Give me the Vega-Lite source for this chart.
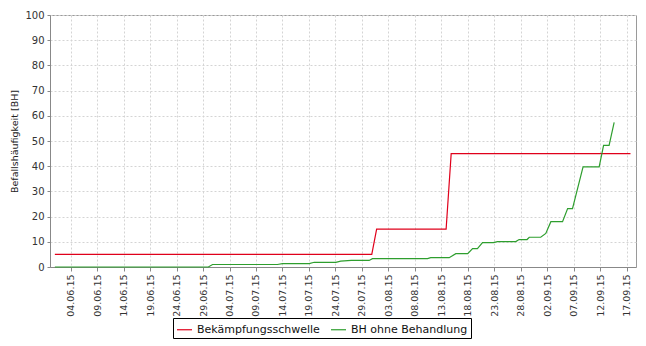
{
  "$schema": "https://vega.github.io/schema/vega-lite/v6.json",
  "width": 586,
  "height": 252,
  "autosize": {"type": "none"},
  "padding": {"left": 50, "top": 15, "right": 11, "bottom": 79},
  "background": "white",
  "config": {
    "view": {"stroke": "#9a9a9a", "strokeWidth": 1},
    "font": "DejaVu Sans"
  },
  "data": {
    "values": [
      {"series": "Bekämpfungsschwelle", "date": "2015-06-01T00:00:00Z", "value": 5},
      {"series": "Bekämpfungsschwelle", "date": "2015-07-30T21:00:00Z", "value": 5},
      {"series": "Bekämpfungsschwelle", "date": "2015-07-31T19:00:00Z", "value": 15},
      {"series": "Bekämpfungsschwelle", "date": "2015-08-13T22:00:00Z", "value": 15},
      {"series": "Bekämpfungsschwelle", "date": "2015-08-14T21:00:00Z", "value": 45},
      {"series": "Bekämpfungsschwelle", "date": "2015-09-17T18:00:00Z", "value": 45},
      {"series": "BH ohne Behandlung", "date": "2015-06-01T00:00:00Z", "value": 0},
      {"series": "BH ohne Behandlung", "date": "2015-06-30T00:00:00Z", "value": 0},
      {"series": "BH ohne Behandlung", "date": "2015-06-30T19:00:00Z", "value": 1},
      {"series": "BH ohne Behandlung", "date": "2015-07-13T01:00:00Z", "value": 1},
      {"series": "BH ohne Behandlung", "date": "2015-07-14T00:00:00Z", "value": 1.35},
      {"series": "BH ohne Behandlung", "date": "2015-07-19T01:00:00Z", "value": 1.35},
      {"series": "BH ohne Behandlung", "date": "2015-07-20T00:00:00Z", "value": 1.87},
      {"series": "BH ohne Behandlung", "date": "2015-07-24T02:00:00Z", "value": 1.87},
      {"series": "BH ohne Behandlung", "date": "2015-07-25T00:00:00Z", "value": 2.3},
      {"series": "BH ohne Behandlung", "date": "2015-07-27T00:00:00Z", "value": 2.6},
      {"series": "BH ohne Behandlung", "date": "2015-07-30T09:00:00Z", "value": 2.6},
      {"series": "BH ohne Behandlung", "date": "2015-07-31T00:00:00Z", "value": 3.3},
      {"series": "BH ohne Behandlung", "date": "2015-08-10T10:00:00Z", "value": 3.3},
      {"series": "BH ohne Behandlung", "date": "2015-08-11T00:00:00Z", "value": 3.7},
      {"series": "BH ohne Behandlung", "date": "2015-08-14T12:00:00Z", "value": 3.7},
      {"series": "BH ohne Behandlung", "date": "2015-08-15T18:00:00Z", "value": 5.3},
      {"series": "BH ohne Behandlung", "date": "2015-08-18T00:00:00Z", "value": 5.3},
      {"series": "BH ohne Behandlung", "date": "2015-08-18T22:00:00Z", "value": 7.3},
      {"series": "BH ohne Behandlung", "date": "2015-08-19T20:00:00Z", "value": 7.3},
      {"series": "BH ohne Behandlung", "date": "2015-08-20T19:00:00Z", "value": 9.7},
      {"series": "BH ohne Behandlung", "date": "2015-08-22T20:00:00Z", "value": 9.7},
      {"series": "BH ohne Behandlung", "date": "2015-08-23T15:00:00Z", "value": 10.1},
      {"series": "BH ohne Behandlung", "date": "2015-08-27T02:00:00Z", "value": 10.1},
      {"series": "BH ohne Behandlung", "date": "2015-08-27T17:00:00Z", "value": 10.9},
      {"series": "BH ohne Behandlung", "date": "2015-08-29T05:00:00Z", "value": 10.9},
      {"series": "BH ohne Behandlung", "date": "2015-08-29T15:00:00Z", "value": 11.8},
      {"series": "BH ohne Behandlung", "date": "2015-08-31T19:00:00Z", "value": 11.8},
      {"series": "BH ohne Behandlung", "date": "2015-09-01T18:00:00Z", "value": 13.3},
      {"series": "BH ohne Behandlung", "date": "2015-09-02T17:00:00Z", "value": 18},
      {"series": "BH ohne Behandlung", "date": "2015-09-04T22:00:00Z", "value": 18},
      {"series": "BH ohne Behandlung", "date": "2015-09-05T21:00:00Z", "value": 23.2},
      {"series": "BH ohne Behandlung", "date": "2015-09-06T19:00:00Z", "value": 23.2},
      {"series": "BH ohne Behandlung", "date": "2015-09-08T19:00:00Z", "value": 39.7},
      {"series": "BH ohne Behandlung", "date": "2015-09-11T20:00:00Z", "value": 39.7},
      {"series": "BH ohne Behandlung", "date": "2015-09-12T16:00:00Z", "value": 48.3},
      {"series": "BH ohne Behandlung", "date": "2015-09-13T17:00:00Z", "value": 48.3},
      {"series": "BH ohne Behandlung", "date": "2015-09-14T16:00:00Z", "value": 57.4}
    ]
  },
  "mark": {"type": "line", "strokeWidth": 1.2, "interpolate": "linear"},
  "encoding": {
    "x": {
      "field": "date",
      "type": "temporal",
      "scale": {"type": "utc", "domain": ["2015-05-31T02:00:00Z", "2015-09-18T19:00:00Z"], "nice": false},
      "axis": {
        "title": null,
        "format": "%d.%m.%y",
        "values": [
          {"year": 2015, "month": 6, "date": 4, "utc": true},
          {"year": 2015, "month": 6, "date": 9, "utc": true},
          {"year": 2015, "month": 6, "date": 14, "utc": true},
          {"year": 2015, "month": 6, "date": 19, "utc": true},
          {"year": 2015, "month": 6, "date": 24, "utc": true},
          {"year": 2015, "month": 6, "date": 29, "utc": true},
          {"year": 2015, "month": 7, "date": 4, "utc": true},
          {"year": 2015, "month": 7, "date": 9, "utc": true},
          {"year": 2015, "month": 7, "date": 14, "utc": true},
          {"year": 2015, "month": 7, "date": 19, "utc": true},
          {"year": 2015, "month": 7, "date": 24, "utc": true},
          {"year": 2015, "month": 7, "date": 29, "utc": true},
          {"year": 2015, "month": 8, "date": 3, "utc": true},
          {"year": 2015, "month": 8, "date": 8, "utc": true},
          {"year": 2015, "month": 8, "date": 13, "utc": true},
          {"year": 2015, "month": 8, "date": 18, "utc": true},
          {"year": 2015, "month": 8, "date": 23, "utc": true},
          {"year": 2015, "month": 8, "date": 28, "utc": true},
          {"year": 2015, "month": 9, "date": 2, "utc": true},
          {"year": 2015, "month": 9, "date": 7, "utc": true},
          {"year": 2015, "month": 9, "date": 12, "utc": true},
          {"year": 2015, "month": 9, "date": 17, "utc": true}
        ],
        "labelAngle": 270,
        "labelFont": "DejaVu Sans",
        "labelFontSize": 9.5,
        "labelColor": "#333333",
        "labelPadding": 3,
        "labelOverlap": false,
        "labelFlush": false,
        "domainColor": "#888888",
        "tickColor": "#888888",
        "tickSize": 4,
        "grid": true,
        "gridColor": "#d4d4d4",
        "gridDash": [2, 2],
        "gridWidth": 1
      }
    },
    "y": {
      "field": "value",
      "type": "quantitative",
      "scale": {"domain": [0, 100], "nice": false},
      "axis": {
        "title": "Befallshäufigkeit [BH]",
        "titleFont": "DejaVu Sans",
        "titleFontSize": 9.5,
        "titleFontWeight": "normal",
        "titleColor": "#222222",
        "titlePadding": 5,
        "values": [0, 10, 20, 30, 40, 50, 60, 70, 80, 90, 100],
        "labelFont": "DejaVu Sans",
        "labelFontSize": 10,
        "labelColor": "#333333",
        "labelPadding": 3,
        "domainColor": "#888888",
        "tickColor": "#888888",
        "tickSize": 3,
        "grid": true,
        "gridColor": "#d4d4d4",
        "gridDash": [2, 2],
        "gridWidth": 1
      }
    },
    "color": {
      "field": "series",
      "type": "nominal",
      "scale": {"domain": ["Bekämpfungsschwelle", "BH ohne Behandlung"], "range": ["#e0001b", "#2e9e2e"]},
      "legend": {
        "title": null,
        "orient": "none",
        "legendX": 123,
        "legendY": 303,
        "direction": "horizontal",
        "symbolType": "stroke",
        "symbolSize": 225,
        "symbolStrokeWidth": 1.2,
        "labelFont": "DejaVu Sans",
        "labelFontSize": 11,
        "labelColor": "#111111",
        "labelOffset": 4,
        "columnPadding": 8,
        "strokeColor": "#000000",
        "padding": 3,
        "fillColor": "white"
      }
    }
  }
}
